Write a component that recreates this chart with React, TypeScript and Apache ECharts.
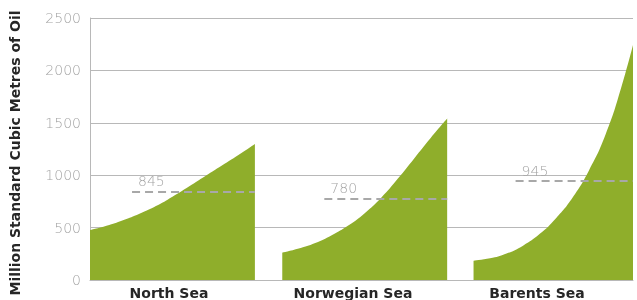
import React, { useEffect, useRef } from "react";
import * as echarts from "echarts";

// ---- data ----
const categories = ["North Sea", "Norwegian Sea", "Barents Sea"];
const northSea = [477, 518, 570, 632, 705, 795, 893, 993, 1093, 1193, 1298];
const norwegianSea = [261, 300, 352, 428, 520, 638, 785, 965, 1160, 1355, 1540];
const barentsSea = [184, 207, 252, 328, 438, 590, 785, 1045, 1385, 1860, 2450];
const means = [845, 780, 945];
const yTicks = [0, 500, 1000, 1500, 2000, 2500];
const yAxisTitle = "Million Standard Cubic Metres of Oil";

// ---- layout (positions on the hidden x scale) ----
const OFFSETS = [0, 11.66, 23.26];
const X_MAX = 32.93;
const MEAN_START = 2.55;

const GREEN = "#8FAE2B";
const GRID_GRAY = "#b8b8b8";
const LABEL_GRAY = "#a3a3a3";

export default function App() {
  const ref = useRef<HTMLDivElement>(null);

  useEffect(() => {
    document.body.style.margin = "0";
    if (!ref.current) return;
    const chart = echarts.init(ref.current, undefined, { renderer: "svg" });
    const seriesValues = [northSea, norwegianSea, barentsSea];

    const series = seriesValues.map((vals, k) => {
      const off = OFFSETS[k];
      const end = Math.min(off + vals.length - 1, X_MAX);
      return {
        type: "line",
        name: categories[k],
        xAxisIndex: 0,
        yAxisIndex: 0,
        data: vals.map((v, i) => [off + i, v]),
        smooth: 0.5,
        symbol: "none",
        clip: true,
        lineStyle: { width: 0, color: GREEN },
        areaStyle: { color: GREEN, opacity: 1 },
        markLine: {
          silent: true,
          symbol: "none",
          lineStyle: { type: [8, 5], color: "#a8a8a8", width: 2 },
          label: {
            show: true,
            position: "insideStartTop",
            distance: [6, 3],
            formatter: String(means[k]),
            color: LABEL_GRAY,
            fontFamily: "DejaVu Sans",
            fontWeight: 200,
            fontSize: 14,
          },
          data: [
            [
              { coord: [off + MEAN_START, means[k]] },
              { coord: [end, means[k]] },
            ],
          ],
        },
      };
    });

    chart.setOption({
      animation: false,
      grid: [
        { left: 88, right: 4, top: 18, bottom: 20 },
        { left: 77, width: 552, top: 18, bottom: 20 },
      ],
      xAxis: [
        {
          type: "value",
          gridIndex: 0,
          min: 0,
          max: X_MAX,
          axisLine: { show: true, onZero: false, lineStyle: { color: GRID_GRAY } },
          axisTick: { show: false },
          axisLabel: { show: false },
          splitLine: { show: false },
        },
        {
          type: "category",
          gridIndex: 1,
          data: categories,
          axisLine: { show: false },
          axisTick: { show: false },
          splitLine: { show: false },
          axisLabel: {
            margin: 7,
            fontFamily: "DejaVu Sans",
            fontWeight: "bold",
            fontSize: 14,
            color: "#262626",
          },
        },
      ],
      yAxis: [
        {
          type: "value",
          gridIndex: 0,
          min: yTicks[0],
          max: yTicks[yTicks.length - 1],
          interval: yTicks[1] - yTicks[0],
          axisLine: { show: true, lineStyle: { color: GRID_GRAY } },
          axisTick: { show: false },
          axisLabel: {
            margin: 9,
            formatter: (v: number) => String(v),
            fontFamily: "DejaVu Sans",
            fontWeight: 200,
            fontSize: 14,
            color: LABEL_GRAY,
          },
          splitLine: { show: true, lineStyle: { color: GRID_GRAY, width: 1 } },
          name: yAxisTitle,
          nameLocation: "middle",
          nameGap: 68,
          nameTextStyle: {
            fontFamily: "DejaVu Sans",
            fontWeight: "bold",
            fontSize: 14,
            color: "#262626",
            padding: [0, 8, 0, 0],
          },
        },
        { type: "value", gridIndex: 1, show: false },
      ],
      series,
    });

    return () => chart.dispose();
  }, []);

  return (
    <div
      ref={ref}
      style={{ position: "fixed", left: 0, top: 0, width: 637, height: 300 }}
    />
  );
}
